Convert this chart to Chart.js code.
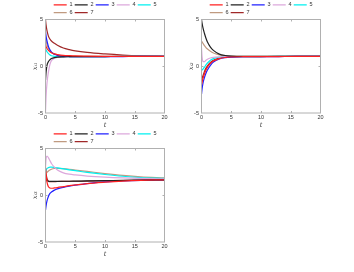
<!DOCTYPE html>
<html>
<head>
<meta charset="utf-8">
<script src="https://cdn.jsdelivr.net/npm/chart.js@4.4.1/dist/chart.umd.min.js"></script>
<style>
  html, body { margin: 0; padding: 0; background: #fff; }
  #wrap { position: relative; width: 354px; height: 272px; }
  canvas { position: absolute; }
</style>
</head>
<body>
<div id="wrap">
  <canvas id="c1" width="177" height="129" style="left:0;top:0"></canvas>
  <canvas id="c2" width="177" height="129" style="left:156px;top:0"></canvas>
  <canvas id="c3" width="177" height="129" style="left:0;top:129px"></canvas>
</div>
<script>
// time samples (shared by all curves)
const t = [0, 0.1, 0.25, 0.5, 0.75, 1, 1.5, 2, 3, 4, 5, 7, 10, 13, 16, 20];

const agents = ['1', '2', '3', '4', '5', '6', '7'];
const colors = ['#ff2020', '#222222', '#2020ff', '#dca8dc', '#00f0f0', '#c09a80', '#a02828'];

const xTicks = [0, 5, 10, 15, 20];
const yTicks = [-5, 0, 5];

// x_i1
const x11 = [2.3, 2.1, 1.9, 1.7, 1.55, 1.45, 1.32, 1.25, 1.17, 1.13, 1.1, 1.08, 1.06, 1.05, 1.05, 1.05];
const x21 = [-1.5, -0.6, 0.1, 0.5, 0.7, 0.82, 0.93, 0.98, 1.01, 1.02, 1.03, 1.03, 1.04, 1.05, 1.05, 1.05];
const x31 = [3.7, 3.2, 2.7, 2.1, 1.75, 1.5, 1.28, 1.17, 1.08, 1.04, 1.02, 1.02, 1.03, 1.04, 1.05, 1.05];
const x41 = [-4.9, -3.2, -1.8, -0.6, 0.2, 0.6, 0.85, 0.95, 1.0, 1.02, 1.03, 1.03, 1.04, 1.05, 1.05, 1.05];
const x51 = [1.9, 1.75, 1.55, 1.35, 1.2, 1.12, 1.05, 1.02, 1.01, 1.02, 1.02, 1.03, 1.04, 1.05, 1.05, 1.05];
const x61 = [3.0, 2.7, 2.3, 1.9, 1.65, 1.5, 1.32, 1.22, 1.12, 1.08, 1.06, 1.05, 1.05, 1.05, 1.05, 1.05];
const x71 = [5.0, 4.4, 3.8, 3.2, 2.9, 2.7, 2.45, 2.25, 1.95, 1.78, 1.65, 1.48, 1.32, 1.2, 1.12, 1.06];

// x_i2
const x12 = [-2.0, -1.7, -1.3, -0.8, -0.4, -0.1, 0.3, 0.55, 0.82, 0.94, 0.99, 1.02, 1.03, 1.04, 1.05, 1.05];
const x22 = [5.0, 4.6, 4.1, 3.5, 3.0, 2.6, 2.05, 1.7, 1.3, 1.15, 1.08, 1.05, 1.05, 1.05, 1.05, 1.05];
const x32 = [-3.0, -2.4, -1.8, -1.2, -0.75, -0.4, 0.1, 0.45, 0.78, 0.92, 0.98, 1.02, 1.03, 1.04, 1.05, 1.05];
const x42 = [2.0, 1.0, 0.5, 0.5, 0.65, 0.75, 0.88, 0.95, 1.0, 1.02, 1.03, 1.04, 1.04, 1.05, 1.05, 1.05];
const x52 = [-0.3, -0.4, -0.3, -0.1, 0.15, 0.35, 0.65, 0.82, 0.96, 1.0, 1.02, 1.03, 1.04, 1.05, 1.05, 1.05];
const x62 = [2.7, 2.6, 2.45, 2.2, 2.0, 1.85, 1.6, 1.42, 1.22, 1.12, 1.08, 1.05, 1.05, 1.05, 1.05, 1.05];
const x72 = [-1.6, -1.3, -1.0, -0.55, -0.2, 0.05, 0.42, 0.65, 0.88, 0.97, 1.01, 1.03, 1.04, 1.05, 1.05, 1.05];

// x_i3
const x13 = [3.0, 2.2, 1.4, 0.9, 0.78, 0.75, 0.78, 0.82, 0.92, 1.02, 1.1, 1.25, 1.4, 1.52, 1.6, 1.65];
const x23 = [1.7, 1.6, 1.55, 1.5, 1.48, 1.48, 1.48, 1.49, 1.5, 1.5, 1.51, 1.53, 1.56, 1.6, 1.62, 1.65];
const x33 = [-1.6, -1.1, -0.6, -0.1, 0.2, 0.35, 0.55, 0.68, 0.85, 0.98, 1.08, 1.25, 1.42, 1.53, 1.6, 1.65];
const x43 = [3.0, 3.9, 4.2, 4.0, 3.7, 3.4, 3.0, 2.7, 2.4, 2.25, 2.17, 2.05, 1.93, 1.85, 1.8, 1.75];
const x53 = [2.5, 2.7, 2.85, 2.95, 3.0, 3.0, 2.97, 2.92, 2.82, 2.72, 2.63, 2.45, 2.22, 2.03, 1.9, 1.8];
const x63 = [2.2, 2.3, 2.45, 2.6, 2.7, 2.78, 2.86, 2.88, 2.85, 2.78, 2.7, 2.55, 2.32, 2.12, 1.97, 1.85];
const x73 = [2.9, 2.3, 1.8, 1.5, 1.45, 1.45, 1.46, 1.47, 1.48, 1.49, 1.5, 1.52, 1.55, 1.58, 1.61, 1.65];

const tickFont = { family: 'Liberation Sans', size: 5.5 };
const titleFont = { family: 'DejaVu Serif', size: 6.5, style: 'italic' };

// legend sits a bit right of the plot's left edge, rows aligned left
const legendShift = {
    id: 'legendShift',
    afterLayout(chart) {
        chart.legend.left += 6;
        chart.legend.right += 6;
    }
};

// box around the plot with small inward ticks
const frame = {
    id: 'frame',
    afterDatasetsDraw(chart) {
        const { ctx, chartArea: a, scales: { x, y } } = chart;
        ctx.save();
        ctx.strokeStyle = '#b0b0b0';
        ctx.lineWidth = 1;
        ctx.strokeRect(a.left, a.top, a.right - a.left, a.bottom - a.top);
        ctx.beginPath();
        xTicks.slice(1, -1).forEach(v => {
            const px = Math.round(x.getPixelForValue(v)) + 0.5;
            ctx.moveTo(px, a.top); ctx.lineTo(px, a.top + 2);
            ctx.moveTo(px, a.bottom); ctx.lineTo(px, a.bottom - 2);
        });
        yTicks.slice(1, -1).forEach(v => {
            const py = Math.round(y.getPixelForValue(v)) + 0.5;
            ctx.moveTo(a.left, py); ctx.lineTo(a.left + 2, py);
            ctx.moveTo(a.right, py); ctx.lineTo(a.right - 2, py);
        });
        ctx.stroke();
        ctx.restore();
    }
};

function makeChart(id, yLabel, series) {
    const datasets = series.map((vals, i) => ({
        label: agents[i],
        data: t.map((tv, k) => ({ x: tv, y: vals[k] })),
        borderColor: colors[i],
        backgroundColor: colors[i],
        borderWidth: 1.2,
        pointRadius: 0,
        cubicInterpolationMode: 'monotone',
        fill: false
    }));

    return new Chart(document.getElementById(id), {
        type: 'line',
        data: { datasets: datasets },
        options: {
            responsive: false,
            animation: false,
            layout: { padding: { left: 30, right: 12.5, top: 0, bottom: 0 } },
            scales: {
                x: {
                    type: 'linear',
                    min: 0,
                    max: 20,
                    ticks: { stepSize: 5, font: tickFont, color: '#333', padding: 1.5, maxRotation: 0 },
                    grid: { display: false, drawTicks: false },
                    border: { display: false },
                    title: { display: true, text: 't', font: titleFont, color: '#333', padding: 0 },
                    afterFit: s => { s.height = 16; }
                },
                y: {
                    min: -5,
                    max: 5,
                    ticks: { stepSize: 5, font: tickFont, color: '#333', padding: 2.5 },
                    grid: { display: false, drawTicks: false },
                    border: { display: false },
                    title: { display: true, text: yLabel, font: titleFont, color: '#333', padding: { top: 1.8, bottom: 0 } },
                    afterFit: s => { s.width = 15.5; }
                }
            },
            plugins: {
                legend: {
                    position: 'top',
                    align: 'start',
                    fullSize: false,
                    maxHeight: 19.5,
                    labels: {
                        usePointStyle: true,
                        pointStyle: 'line',
                        pointStyleWidth: 13,
                        boxHeight: 5,
                        padding: 2.2,
                        color: '#333',
                        font: { family: 'Liberation Sans', size: 5.5 }
                    }
                },
                tooltip: { enabled: false }
            }
        },
        plugins: [legendShift, frame]
    });
}

makeChart('c1', 'xᵢ₁', [x11, x21, x31, x41, x51, x61, x71]);
makeChart('c2', 'xᵢ₂', [x12, x22, x32, x42, x52, x62, x72]);
makeChart('c3', 'xᵢ₃', [x13, x23, x33, x43, x53, x63, x73]);
</script>
</body>
</html>
